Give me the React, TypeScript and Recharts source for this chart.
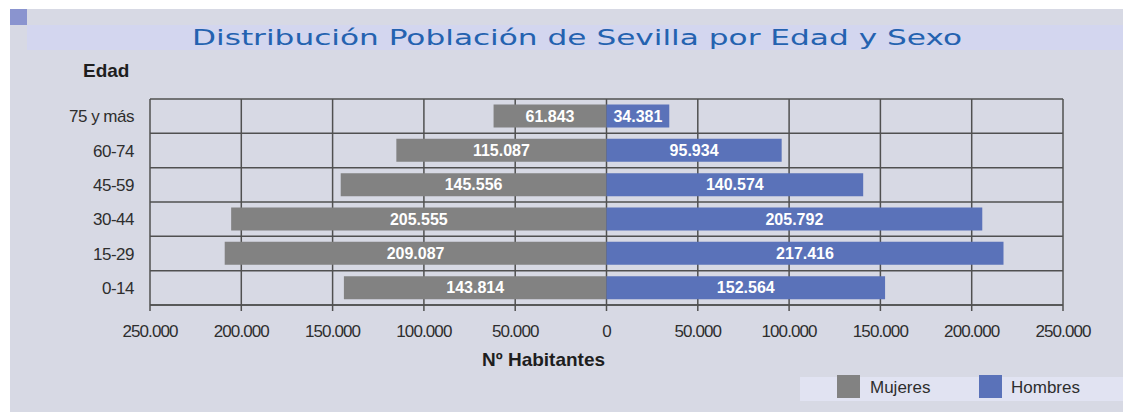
import React from "react";
import {
  BarChart,
  Bar,
  XAxis,
  YAxis,
  CartesianGrid,
  LabelList,
} from "recharts";

const categories = ["75 y más", "60-74", "45-59", "30-44", "15-29", "0-14"];
const mujeres = [61843, 115087, 145556, 205555, 209087, 143814];
const hombres = [34381, 95934, 140574, 205792, 217416, 152564];
const xTicks = [-250000, -200000, -150000, -100000, -50000, 0, 50000, 100000, 150000, 200000, 250000];

const chartData = categories.map((edad, i) => ({
  edad,
  mujeres: -mujeres[i],
  hombres: hombres[i],
}));

const GRAY = "#828282";
const BLUE = "#5a72b9";
const TEXT = "#2e2e2e";
const LIGHT_FONT = "'Liberation Sans', Arial, sans-serif";
const BOLD_FONT = "'Liberation Sans', Arial, sans-serif";

function fmt(v: number) {
  return String(Math.abs(Math.round(v))).replace(/\B(?=(\d{3})+(?!\d))/g, ".");
}

// horizontal grid lines on the borders between age bands
function bandBorders({ yAxis, offset }: any) {
  try {
    const s = yAxis?.scale;
    const map = typeof s === "function" ? s : s?.map ? (v: any) => s.map(v) : null;
    const bw = s?.bandwidth ? s.bandwidth() : null;
    if (map && bw) {
      const starts = categories.map((c) => map(c));
      if (starts.every((n) => typeof n === "number" && !isNaN(n))) {
        return [...starts, starts[starts.length - 1] + bw];
      }
    }
  } catch (e) {
    // fall through
  }
  const step = offset.height / categories.length;
  return [...categories.map((_, i) => offset.top + i * step), offset.top + offset.height];
}

export default function App() {
  return (
    <div
      style={{
        position: "fixed",
        left: 0,
        top: 0,
        width: 1125,
        height: 412,
        background: "#ffffff",
        overflow: "hidden",
      }}
    >
      {/* panel background */}
      <div style={{ position: "absolute", left: 10, top: 9, width: 1113, height: 403, background: "#d7d9e4" }} />
      {/* corner square + title band */}
      <div style={{ position: "absolute", left: 10, top: 9, width: 17, height: 16, background: "#8a94cf" }} />
      <div style={{ position: "absolute", left: 27, top: 25, width: 1096, height: 25, background: "#d3d6ef" }} />
      <svg style={{ position: "absolute", left: 0, top: 0 }} width={1125} height={60}>
        <text
          x={192}
          y={45}
          textLength={770}
          lengthAdjust="spacingAndGlyphs"
          fill="#2462b0"
          fontSize={21}
          fontFamily="'DejaVu Sans', sans-serif"
        >
          Distribución Población de Sevilla por Edad y Sexo
        </text>
      </svg>

      <div
        style={{
          position: "absolute",
          left: 83,
          top: 60,
          fontFamily: BOLD_FONT,
          fontWeight: "bold",
          fontSize: 19,
          color: "#1e1e1e",
        }}
      >
        Edad
      </div>

      <div style={{ position: "absolute", left: 0, top: 0 }}>
        <BarChart
          width={1125}
          height={412}
          data={chartData}
          layout="vertical"
          stackOffset="sign"
          barCategoryGap="16%"
          margin={{ top: 99, right: 62, left: 0, bottom: 77 }}
        >
          <CartesianGrid
            stroke="#505050"
            strokeWidth={1.5}
            horizontalCoordinatesGenerator={bandBorders}
          />
          <XAxis
            type="number"
            domain={[-250000, 250000]}
            ticks={xTicks}
            tickFormatter={fmt}
            height={30}
            tickSize={6}
            tickMargin={14}
            axisLine={{ stroke: "#505050", strokeWidth: 1.5 }}
            tickLine={{ stroke: "#505050", strokeWidth: 1.5 }}
            tick={{ fill: TEXT, fontSize: 17, fontFamily: LIGHT_FONT, letterSpacing: -0.9 }}
            interval={0}
          />
          <YAxis
            type="category"
            dataKey="edad"
            width={150}
            axisLine={false}
            tickLine={false}
            tickMargin={10}
            tick={{ fill: TEXT, fontSize: 17, fontFamily: LIGHT_FONT, letterSpacing: -0.5 }}
          />
          <Bar dataKey="mujeres" name="Mujeres" stackId="a" fill={GRAY} isAnimationActive={false}>
            <LabelList
              dataKey="mujeres"
              position="center"
              formatter={(v: any) => fmt(Number(v))}
              fill="#ffffff"
              fontSize={16}
              fontWeight="bold"
              fontFamily={BOLD_FONT}
            />
          </Bar>
          <Bar dataKey="hombres" name="Hombres" stackId="a" fill={BLUE} isAnimationActive={false}>
            <LabelList
              dataKey="hombres"
              position="center"
              formatter={(v: any) => fmt(Number(v))}
              fill="#ffffff"
              fontSize={16}
              fontWeight="bold"
              fontFamily={BOLD_FONT}
            />
          </Bar>
        </BarChart>
      </div>

      <div
        style={{
          position: "absolute",
          left: 482,
          top: 349,
          fontFamily: BOLD_FONT,
          fontWeight: "bold",
          fontSize: 19,
          color: "#1e1e1e",
          whiteSpace: "nowrap",
        }}
      >
        Nº Habitantes
      </div>

      {/* legend */}
      <div style={{ position: "absolute", left: 800, top: 377, width: 323, height: 24, background: "#e1e3f2" }} />
      <div style={{ position: "absolute", left: 837, top: 375, width: 23, height: 23, background: GRAY }} />
      <div
        style={{
          position: "absolute",
          left: 870,
          top: 378,
          fontFamily: LIGHT_FONT,
          fontSize: 17,
          color: TEXT,
        }}
      >
        Mujeres
      </div>
      <div style={{ position: "absolute", left: 979, top: 375, width: 23, height: 23, background: BLUE }} />
      <div
        style={{
          position: "absolute",
          left: 1011,
          top: 378,
          fontFamily: LIGHT_FONT,
          fontSize: 17,
          color: TEXT,
        }}
      >
        Hombres
      </div>
    </div>
  );
}
